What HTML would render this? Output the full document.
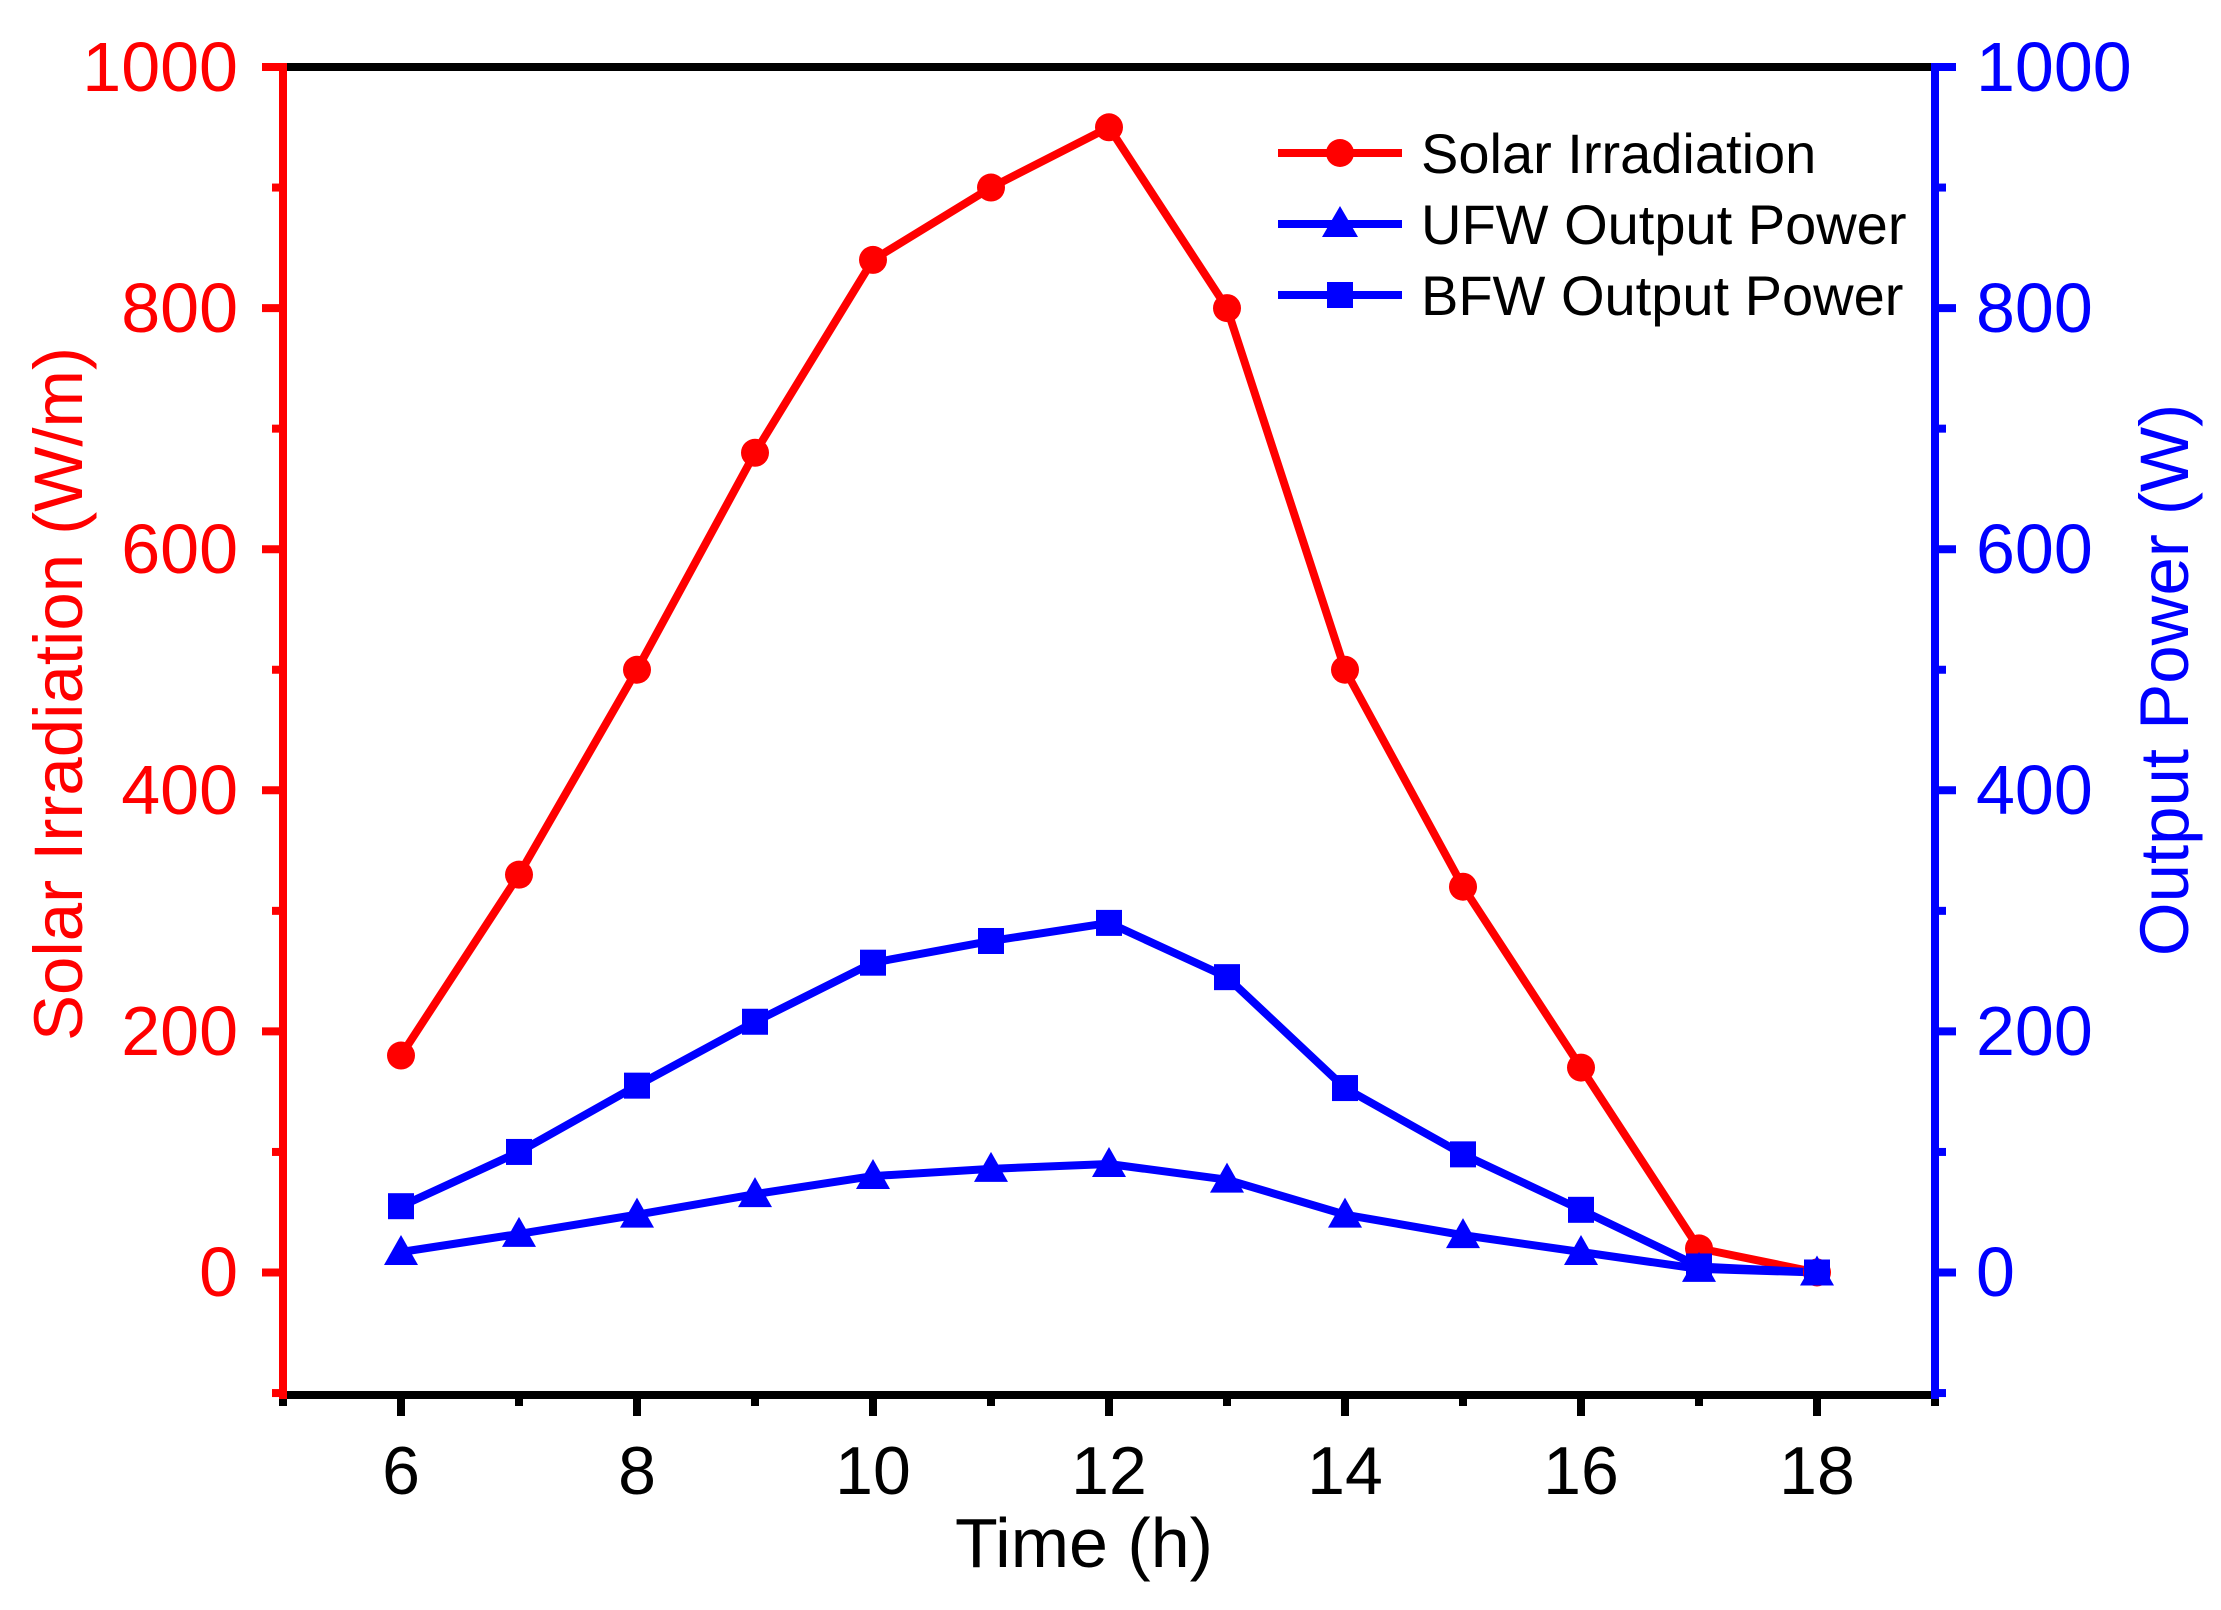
<!DOCTYPE html>
<html><head><meta charset="utf-8"><style>
html,body{margin:0;padding:0;background:#fff;}
svg{display:block;}
text{font-family:"Liberation Sans",Arial,sans-serif;}
</style></head><body>
<svg id="s" width="2221" height="1610" viewBox="0 0 2221 1610" xmlns="http://www.w3.org/2000/svg">
<rect width="2221" height="1610" fill="#fff"/>
<g id="data"></g>
<line x1="283" y1="67" x2="1935" y2="67" stroke="#000" stroke-width="8"/>
<line x1="283" y1="1395" x2="1935" y2="1395" stroke="#000" stroke-width="8"/>
<g id="ticks"></g>
<line x1="283" y1="63" x2="283" y2="1399" stroke="#f00" stroke-width="8"/>
<line x1="1935" y1="63" x2="1935" y2="1399" stroke="#00f" stroke-width="8"/>
<g font-size="70" fill="#f00" text-anchor="end">
<text x="238" y="91">1000</text>
<text x="238" y="332">800</text>
<text x="238" y="573">600</text>
<text x="238" y="814">400</text>
<text x="238" y="1055">200</text>
<text x="238" y="1296">0</text>
</g>
<g font-size="70" fill="#00f" text-anchor="start">
<text x="1976" y="91">1000</text>
<text x="1976" y="332">800</text>
<text x="1976" y="573">600</text>
<text x="1976" y="814">400</text>
<text x="1976" y="1055">200</text>
<text x="1976" y="1296">0</text>
</g>
<g font-size="68" fill="#000" text-anchor="middle">
<text x="401" y="1494">6</text>
<text x="637" y="1494">8</text>
<text x="873" y="1494">10</text>
<text x="1109" y="1494">12</text>
<text x="1345" y="1494">14</text>
<text x="1581" y="1494">16</text>
<text x="1817" y="1494">18</text>
<text x="1084" y="1567" font-size="70">Time (h)</text>
</g>
<text transform="translate(82,694) rotate(-90)" font-size="69" fill="#f00" text-anchor="middle">Solar Irradiation (W/m)</text>
<text transform="translate(2188,680) rotate(-90)" font-size="69" fill="#00f" text-anchor="middle">Output Power (W)</text>
<line x1="1278" y1="153" x2="1402" y2="153" stroke="#f00" stroke-width="8"/>
<circle cx="1340" cy="153" r="14" fill="#f00"/>
<line x1="1278" y1="224" x2="1402" y2="224" stroke="#00f" stroke-width="8"/>
<polygon points="1340,206 1358,237 1322,237" fill="#00f"/>
<line x1="1278" y1="295" x2="1402" y2="295" stroke="#00f" stroke-width="8"/>
<rect x="1327" y="282" width="26" height="26" fill="#00f"/>
<g font-size="56" fill="#000">
<text x="1421" y="173">Solar Irradiation</text>
<text x="1421" y="244">UFW Output Power</text>
<text x="1421" y="315">BFW Output Power</text>
</g>
</svg>
<script>
(function(){
var NS="http://www.w3.org/2000/svg";
function X(t){return 283+(t-5)*118;}
function Y(v){return 67+(1000-v)*1.2055;}
function el(n,a,p){var e=document.createElementNS(NS,n);for(var k in a)e.setAttribute(k,a[k]);p.appendChild(e);return e;}
var tk=document.getElementById('ticks');
for(var v=-100;v<=1000;v+=100){var maj=(v%200===0);var y=Y(v);
 el('line',{x1:283-(maj?21:11),y1:y,x2:283,y2:y,stroke:'#f00','stroke-width':8},tk);
 el('line',{x1:1935,y1:y,x2:1935+(maj?21:11),y2:y,stroke:'#00f','stroke-width':8},tk);}
for(var t=5;t<=19;t++){var maj=(t%2===0);var x=X(t);
 el('line',{x1:x,y1:1395,x2:x,y2:1395+(maj?21:11),stroke:'#000','stroke-width':8},tk);}
var d=document.getElementById('data');
var T=[6,7,8,9,10,11,12,13,14,15,16,17,18];
var S=[180,330,500,680,840,900,950,800,500,320,170,20,0];
var B=[55,100,155,208,257,275,290,245,153,98,52,5,0];
var U=[17,32,48,65,80,86,90,77,48,31,17,3,0];
function pl(a,c){var p=T.map(function(t,i){return X(t)+','+Y(a[i]);}).join(' ');
 el('polyline',{points:p,fill:'none',stroke:c,'stroke-width':8,'stroke-linejoin':'round'},d);}
pl(S,'#f00');pl(B,'#00f');pl(U,'#00f');
T.forEach(function(t,i){var x=X(t);
 el('circle',{cx:x,cy:Y(S[i]),r:14,fill:'#f00'},d);
 el('rect',{x:x-13,y:Y(B[i])-13,width:26,height:26,fill:'#00f'},d);
 var y=Y(U[i]);el('polygon',{points:x+','+(y-17)+' '+(x+17)+','+(y+13)+' '+(x-17)+','+(y+13),fill:'#00f'},d);});
})();
</script>
</body></html>
